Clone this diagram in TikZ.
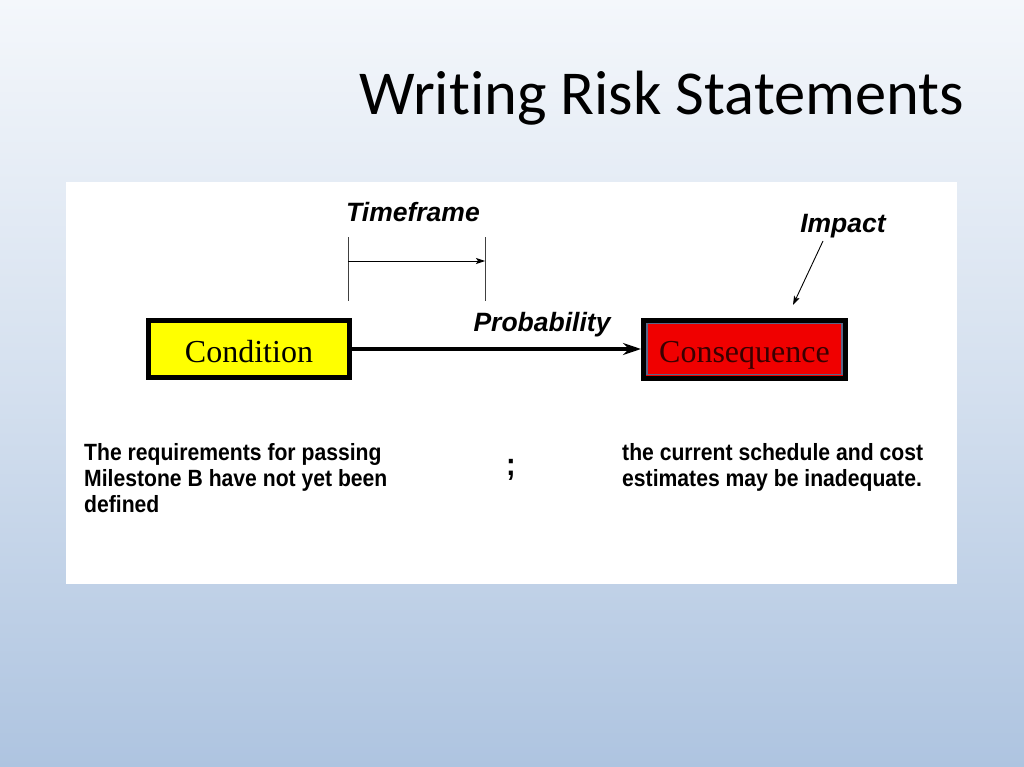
\documentclass[tikz,border=0pt]{standalone}
\usepackage{fontspec}
\setmainfont{Liberation Serif}
\newfontfamily\titlefont[Ligatures={NoCommon,NoRequired,NoContextual}]{Carlito}
\newfontfamily\labelfont{Liberation Sans}
\newfontfamily\narrowfont[FakeStretch=0.9]{Liberation Sans}
\usetikzlibrary{arrows.meta}
\definecolor{bgtop}{HTML}{F4F7FB}
\definecolor{bgbot}{HTML}{AEC4E0}
\definecolor{condyellow}{HTML}{FFFF00}
\definecolor{consred}{HTML}{F00000}
\definecolor{constext}{HTML}{3A0000}
\definecolor{innerblue}{HTML}{5A6688}
\tikzset{
  boxbase/.style={draw=black, line width=5pt, outer sep=0pt, inner sep=0pt,
    font=\fontsize{32}{34}\selectfont, text height=30pt, text depth=4pt},
  condbox/.style={boxbase, fill=condyellow, minimum width=201pt, minimum height=57pt},
  consbox/.style={boxbase, fill=consred, text=constext, minimum width=202pt, minimum height=58pt},
  innerline/.style={draw=innerblue, line width=1.6pt},
  lbl/.style={font=\labelfont\bfseries\itshape\fontsize{26.5}{30}\selectfont, inner sep=0pt},
  bodytext/.style={font=\narrowfont\bfseries\fontsize{23.5}{26}\selectfont, align=left, inner sep=0pt, anchor=north west},
  mainarrow/.style={line width=4pt, -{Stealth[length=18pt,width=12pt,inset=6pt]}},
  tick/.style={line width=0.8pt, draw=black!75},
  thinarrow/.style={line width=0.9pt, -{Stealth[length=9pt,width=6pt,inset=2pt]}},
}
\begin{document}
\begin{tikzpicture}[x=1pt,y=-1pt]
\useasboundingbox (0,0) rectangle (1024,767);
\shade[top color=bgtop, bottom color=bgbot, middle color=bgtop!55!bgbot] (0,0) rectangle (1024,767);
% title
\node[anchor=base west, inner sep=0pt, font=\titlefont\fontsize{62.5}{70}\selectfont] (title) at (359,115) {Writing Risk Statements};
% white panel
\fill[white] (66,182) rectangle (957,584);
% boxes
\node[condbox] (cond) at (249,349) {Condition};
\node[consbox] (cons) at (744.5,349) {Consequence};
\draw[innerline] ([shift={(3.6,3.6)}]cons.north west) rectangle ([shift={(-3.6,-3.6)}]cons.south east);
\draw[mainarrow] (cond.east) -- ([xshift=-2.5pt]cons.west);
% labels
\node[lbl] (tf) at (413,212) {Timeframe};
\node[lbl] (prob) at (542,325) {Probability};
\node[lbl] (imp) at (843,226) {Impact};
% timeframe bracket
\coordinate (tAtop) at (348,237);
\coordinate (tAbot) at (348,301);
\coordinate (tBtop) at (485,237);
\coordinate (tBbot) at (485,301);
\coordinate (tAmid) at (348,261);
\coordinate (tBmid) at (485,261);
\draw[tick] (tAtop) -- (tAbot);
\draw[tick] (tBtop) -- (tBbot);
\draw[thinarrow] (tAmid) -- (tBmid);
% impact arrow
\coordinate (impA) at (823,241);
\coordinate (impB) at (793,305);
\draw[thinarrow] (impA) -- (impB);
% body texts
\node[bodytext] (left) at (84,443) {The requirements for passing\\Milestone B have not yet been\\defined};
\node[font=\narrowfont\bfseries\fontsize{32}{34}\selectfont, inner sep=0pt] (semi) at (511,470) {;};
\node[bodytext] (right) at (622,443) {the current schedule and cost\\estimates may be inadequate.};
\end{tikzpicture}
\end{document}
